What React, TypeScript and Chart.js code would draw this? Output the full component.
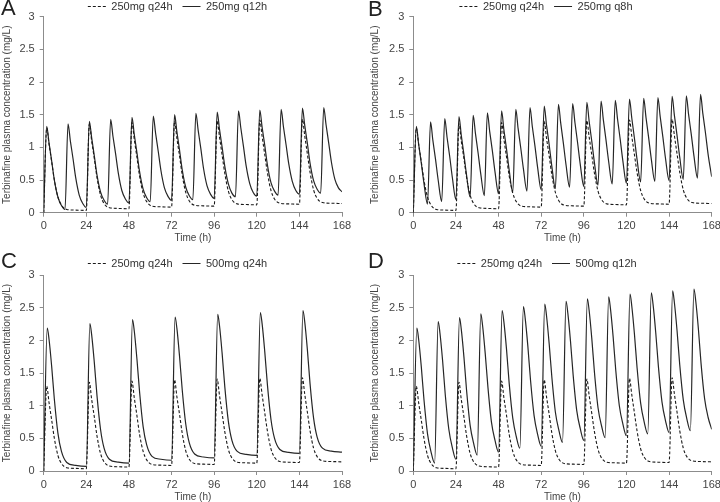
import React, { useEffect, useRef } from "react";
import { Chart, registerables } from "chart.js";
Chart.register(...registerables);

// ---- axis ticks ----
const timeTicks = [0, 24, 48, 72, 96, 120, 144, 168];
const concTicks = [0, 0.5, 1, 1.5, 2, 2.5, 3];

// ---- dosing schedules (h) ----
const dosesQ24 = [0, 24, 48, 72, 96, 120, 144];
const dosesQ12 = [0, 12, 24, 36, 48, 60, 72, 84, 96, 108, 120, 132, 144, 156];
const dosesQ8 = [0, 8, 16, 24, 32, 40, 48, 56, 64, 72, 80, 88, 96, 104, 112, 120, 128, 136, 144, 152, 160];

// ---- sampling times after each dose (h) ----
const offs250q24 = [0, 1.7, 3, 4.5, 6, 8, 10, 13, 18];
const offs250q12 = [0, 1.7, 3, 4.5, 6, 8, 10];
const offs250q8 = [0, 1.7, 3, 4.5, 6];
const offs500q24 = [0, 2, 3, 4.5, 6, 8, 10, 13, 18];
const offs500q12 = [0, 2, 3, 4.5, 6, 8, 10];

// ---- concentrations (mg/L), one row per dose ----
const conc250q24 = [
  [0, 1.3, 1.05, 0.78, 0.5, 0.24, 0.115, 0.05, 0.04],
  [0.035, 1.36, 1.1, 0.83, 0.54, 0.27, 0.14, 0.076, 0.065],
  [0.06, 1.38, 1.125, 0.85, 0.56, 0.3, 0.17, 0.1, 0.09],
  [0.085, 1.4, 1.14, 0.87, 0.58, 0.31, 0.18, 0.115, 0.105],
  [0.1, 1.41, 1.16, 0.88, 0.6, 0.33, 0.2, 0.135, 0.125],
  [0.12, 1.42, 1.17, 0.89, 0.61, 0.34, 0.21, 0.145, 0.135],
  [0.13, 1.43, 1.18, 0.9, 0.62, 0.35, 0.22, 0.155, 0.145],
];
const end250q24 = 0.14;

const conc250q12 = [
  [0, 1.32, 1.07, 0.79, 0.5, 0.24, 0.11],
  [0.05, 1.36, 1.1, 0.83, 0.54, 0.27, 0.14],
  [0.08, 1.4, 1.15, 0.87, 0.58, 0.32, 0.19],
  [0.13, 1.43, 1.17, 0.9, 0.61, 0.34, 0.21],
  [0.15, 1.46, 1.2, 0.92, 0.63, 0.36, 0.23],
  [0.17, 1.48, 1.22, 0.94, 0.65, 0.38, 0.25],
  [0.19, 1.5, 1.24, 0.96, 0.66, 0.39, 0.26],
  [0.2, 1.52, 1.26, 0.98, 0.68, 0.41, 0.28],
  [0.22, 1.54, 1.28, 1.0, 0.71, 0.44, 0.3],
  [0.245, 1.56, 1.3, 1.015, 0.72, 0.45, 0.31],
  [0.255, 1.57, 1.31, 1.03, 0.73, 0.46, 0.33],
  [0.27, 1.58, 1.32, 1.04, 0.75, 0.48, 0.34],
  [0.285, 1.6, 1.34, 1.06, 0.76, 0.49, 0.36],
  [0.3, 1.61, 1.35, 1.07, 0.78, 0.51, 0.38],
];
const end250q12 = 0.32;

const conc250q8 = [
  [0, 1.32, 1.05, 0.76, 0.45],
  [0.13, 1.39, 1.11, 0.82, 0.5],
  [0.17, 1.44, 1.155, 0.86, 0.535],
  [0.2, 1.47, 1.19, 0.89, 0.57],
  [0.24, 1.49, 1.21, 0.91, 0.59],
  [0.26, 1.53, 1.245, 0.95, 0.625],
  [0.29, 1.56, 1.27, 0.97, 0.65],
  [0.31, 1.58, 1.29, 0.99, 0.67],
  [0.33, 1.61, 1.32, 1.02, 0.69],
  [0.35, 1.63, 1.34, 1.04, 0.71],
  [0.37, 1.66, 1.37, 1.06, 0.73],
  [0.39, 1.67, 1.38, 1.07, 0.74],
  [0.4, 1.69, 1.4, 1.09, 0.76],
  [0.42, 1.71, 1.42, 1.11, 0.78],
  [0.44, 1.72, 1.43, 1.12, 0.79],
  [0.45, 1.74, 1.45, 1.14, 0.81],
  [0.47, 1.75, 1.46, 1.15, 0.82],
  [0.48, 1.76, 1.47, 1.16, 0.83],
  [0.49, 1.78, 1.49, 1.18, 0.85],
  [0.51, 1.79, 1.5, 1.2, 0.87],
  [0.53, 1.81, 1.52, 1.22, 0.89],
];
const end250q8 = 0.55;

const conc500q24 = [
  [0, 2.19, 2.02, 1.6, 1.1, 0.58, 0.3, 0.13, 0.085],
  [0.07, 2.26, 2.09, 1.665, 1.16, 0.64, 0.35, 0.18, 0.135],
  [0.12, 2.32, 2.15, 1.72, 1.21, 0.68, 0.4, 0.225, 0.18],
  [0.165, 2.36, 2.19, 1.76, 1.25, 0.72, 0.43, 0.26, 0.215],
  [0.2, 2.4, 2.23, 1.8, 1.29, 0.76, 0.47, 0.3, 0.255],
  [0.24, 2.43, 2.26, 1.83, 1.32, 0.79, 0.5, 0.33, 0.285],
  [0.27, 2.46, 2.29, 1.86, 1.34, 0.81, 0.52, 0.35, 0.305],
];
const end500q24 = 0.29;

const conc500q12 = [
  [0, 2.19, 2.02, 1.6, 1.095, 0.57, 0.29],
  [0.12, 2.29, 2.115, 1.69, 1.17, 0.64, 0.355],
  [0.18, 2.35, 2.175, 1.75, 1.235, 0.7, 0.42],
  [0.245, 2.41, 2.23, 1.8, 1.29, 0.75, 0.47],
  [0.29, 2.46, 2.285, 1.86, 1.34, 0.81, 0.525],
  [0.35, 2.52, 2.34, 1.91, 1.39, 0.85, 0.56],
  [0.38, 2.56, 2.38, 1.95, 1.44, 0.9, 0.62],
  [0.44, 2.6, 2.42, 1.99, 1.47, 0.93, 0.65],
  [0.47, 2.64, 2.46, 2.03, 1.51, 0.97, 0.69],
  [0.51, 2.67, 2.49, 2.06, 1.54, 1.0, 0.72],
  [0.54, 2.71, 2.53, 2.1, 1.58, 1.04, 0.75],
  [0.57, 2.73, 2.55, 2.12, 1.6, 1.06, 0.77],
  [0.59, 2.76, 2.58, 2.15, 1.63, 1.09, 0.8],
  [0.62, 2.79, 2.61, 2.18, 1.65, 1.11, 0.82],
];
const end500q12 = 0.64;

const END_TIME = 168;

function toPoints(doses: number[], offs: number[], conc: number[][], end: number) {
  const pts: { x: number; y: number }[] = [];
  doses.forEach((t0, k) => {
    offs.forEach((dt, j) => pts.push({ x: t0 + dt, y: conc[k][j] }));
  });
  pts.push({ x: END_TIME, y: end });
  return pts;
}

type PanelCfg = {
  letter: string;
  left: number;
  top: number;
  refLabel: string;
  label: string;
  points: () => { x: number; y: number }[];
  yAxisW: number;
  xAxisH: number;
  plotTop: number;
  padRight: number;
  yTitlePad: number;
  xTitlePad: number;
  legendCenter: number;
  legendTextY: number;
  letterLeft: number;
  letterTop: number;
};

const panels: PanelCfg[] = [
  {
    letter: "A", left: 0, top: 0, refLabel: "250mg q24h", label: "250mg q12h",
    points: () => toPoints(dosesQ12, offs250q12, conc250q12, end250q12),
    yAxisW: 43.7, xAxisH: 38.3, plotTop: 16.7, padRight: 18, yTitlePad: 1, xTitlePad: 7,
    legendCenter: 177.5, legendTextY: 6.5, letterLeft: 1, letterTop: -2.6,
  },
  {
    letter: "B", left: 360, top: 0, refLabel: "250mg q24h", label: "250mg q8h",
    points: () => toPoints(dosesQ8, offs250q8, conc250q8, end250q8),
    yAxisW: 53.3, xAxisH: 38.3, plotTop: 16.7, padRight: 8.3, yTitlePad: 9, xTitlePad: 7,
    legendCenter: 186, legendTextY: 6.5, letterLeft: 8, letterTop: -1.6,
  },
  {
    letter: "C", left: 0, top: 251, refLabel: "250mg q24h", label: "500mg q24h",
    points: () => toPoints(dosesQ24, offs500q24, conc500q24, end500q24),
    yAxisW: 43.7, xAxisH: 31, plotTop: 24.3, padRight: 18, yTitlePad: 1, xTitlePad: -1,
    legendCenter: 177.5, legendTextY: 12.5, letterLeft: 1, letterTop: -0.6,
  },
  {
    letter: "D", left: 360, top: 251, refLabel: "250mg q24h", label: "500mg q12h",
    points: () => toPoints(dosesQ12, offs500q12, conc500q12, end500q12),
    yAxisW: 53.3, xAxisH: 31, plotTop: 24.3, padRight: 8.3, yTitlePad: 9, xTitlePad: -1,
    legendCenter: 187, legendTextY: 12.5, letterLeft: 8, letterTop: -0.6,
  },
];

const FONT = "'Liberation Sans', Arial, sans-serif";
const AXIS_COLOR = "#8c8c8c";
const TEXT_COLOR = "#444";
const LEGEND_PAD = 10;
const LEGEND_FONT = 11;

function Panel({ cfg }: { cfg: PanelCfg }) {
  const ref = useRef<HTMLCanvasElement>(null);
  useEffect(() => {
    const legendShift = {
      id: "legendShift",
      afterLayout(chart: any) {
        const lg = chart.legend;
        if (!lg || !lg.lineWidths) return;
        const lw = lg.lineWidths[0];
        const start = (lg.left + LEGEND_PAD + lg.right - lw) / 2;
        const center = start + (lw - LEGEND_PAD) / 2;
        const dx = cfg.legendCenter - center;
        const curTextY = lg.top + LEGEND_PAD + LEGEND_FONT / 2;
        const dy = cfg.legendTextY - curTextY;
        lg.left += dx;
        lg.right += dx;
        lg.top += dy;
        lg.bottom = Math.max(lg.bottom, lg.top + 40);
      },
    };
    const chart = new Chart(ref.current as HTMLCanvasElement, {
      type: "line",
      data: {
        datasets: [
          {
            label: cfg.refLabel,
            data: toPoints(dosesQ24, offs250q24, conc250q24, end250q24),
            borderColor: "#1a1a1a",
            backgroundColor: "transparent",
            borderWidth: 1.1,
            borderDash: [3, 2],
            pointRadius: 0,
            cubicInterpolationMode: "monotone",
            fill: false,
          },
          {
            label: cfg.label,
            data: cfg.points(),
            borderColor: "#262626",
            backgroundColor: "transparent",
            borderWidth: 1.2,
            pointRadius: 0,
            cubicInterpolationMode: "monotone",
            fill: false,
          },
        ],
      },
      options: {
        responsive: false,
        animation: false,
        devicePixelRatio: 1,
        events: [],
        layout: { padding: { top: 0, left: 0, bottom: 0, right: cfg.padRight } },
        plugins: {
          legend: {
            display: true,
            position: "top",
            maxHeight: cfg.plotTop,
            labels: {
              usePointStyle: true,
              pointStyle: "line",
              pointStyleWidth: 18,
              boxWidth: 18,
              boxHeight: LEGEND_FONT,
              padding: LEGEND_PAD,
              color: "#333",
              font: { family: FONT, size: LEGEND_FONT },
              generateLabels: (ch: any) => {
                const items = (Chart.defaults.plugins.legend.labels as any).generateLabels(ch);
                items.forEach((it: any, i: number) => {
                  const ds: any = ch.data.datasets[i];
                  it.lineDash = ds.borderDash || [];
                  it.lineDashOffset = 0;
                  it.strokeStyle = ds.borderColor;
                  it.fillStyle = "transparent";
                  it.lineWidth = 1;
                  it.pointStyle = "line";
                });
                return items;
              },
            },
          },
          tooltip: { enabled: false },
          title: { display: false },
        },
        scales: {
          x: {
            type: "linear",
            min: 0,
            max: 168,
            afterBuildTicks: (s: any) => {
              s.ticks = timeTicks.map((v) => ({ value: v }));
            },
            afterFit: (s: any) => {
              s.height = cfg.xAxisH;
              s.paddingLeft = 0;
              s.paddingRight = 0;
            },
            ticks: {
              color: TEXT_COLOR,
              font: { family: FONT, size: 11 },
              padding: 3,
              maxRotation: 0,
              autoSkip: false,
            },
            grid: { drawOnChartArea: false, drawTicks: true, tickLength: 4, color: AXIS_COLOR },
            border: { display: true, color: AXIS_COLOR },
            title: {
              display: true,
              text: "Time (h)",
              color: TEXT_COLOR,
              font: { family: FONT, size: 10 },
              padding: { top: 0, bottom: cfg.xTitlePad },
            },
          },
          y: {
            type: "linear",
            min: 0,
            max: 3,
            afterBuildTicks: (s: any) => {
              s.ticks = concTicks.map((v) => ({ value: v }));
            },
            afterFit: (s: any) => {
              s.width = cfg.yAxisW;
              s.paddingTop = 0;
              s.paddingBottom = 0;
            },
            ticks: {
              color: TEXT_COLOR,
              font: { family: FONT, size: 11 },
              padding: 5,
              callback: (v: any) => String(v),
            },
            grid: { drawOnChartArea: false, drawTicks: true, tickLength: 4, color: AXIS_COLOR },
            border: { display: true, color: AXIS_COLOR },
            title: {
              display: true,
              text: "Terbinafine plasma concentration (mg/L)",
              color: TEXT_COLOR,
              font: { family: FONT, size: 10 },
              padding: { top: cfg.yTitlePad, bottom: 0 },
            },
          },
        },
      },
      plugins: [legendShift],
    } as any);
    return () => chart.destroy();
  }, []);
  return (
    <div style={{ position: "absolute", left: cfg.left, top: cfg.top, width: 360, height: 251 }}>
      <canvas ref={ref} width={360} height={251} style={{ display: "block", width: 360, height: 251 }} />
      <div
        style={{
          position: "absolute",
          left: cfg.letterLeft,
          top: cfg.letterTop,
          fontFamily: FONT,
          fontSize: 22,
          lineHeight: "22px",
          color: "#222",
        }}
      >
        {cfg.letter}
      </div>
    </div>
  );
}

export default function App() {
  return (
    <div style={{ position: "fixed", left: 0, top: 0, width: 720, height: 502, background: "#fff", overflow: "hidden" }}>
      {panels.map((p) => (
        <Panel key={p.letter} cfg={p} />
      ))}
    </div>
  );
}
